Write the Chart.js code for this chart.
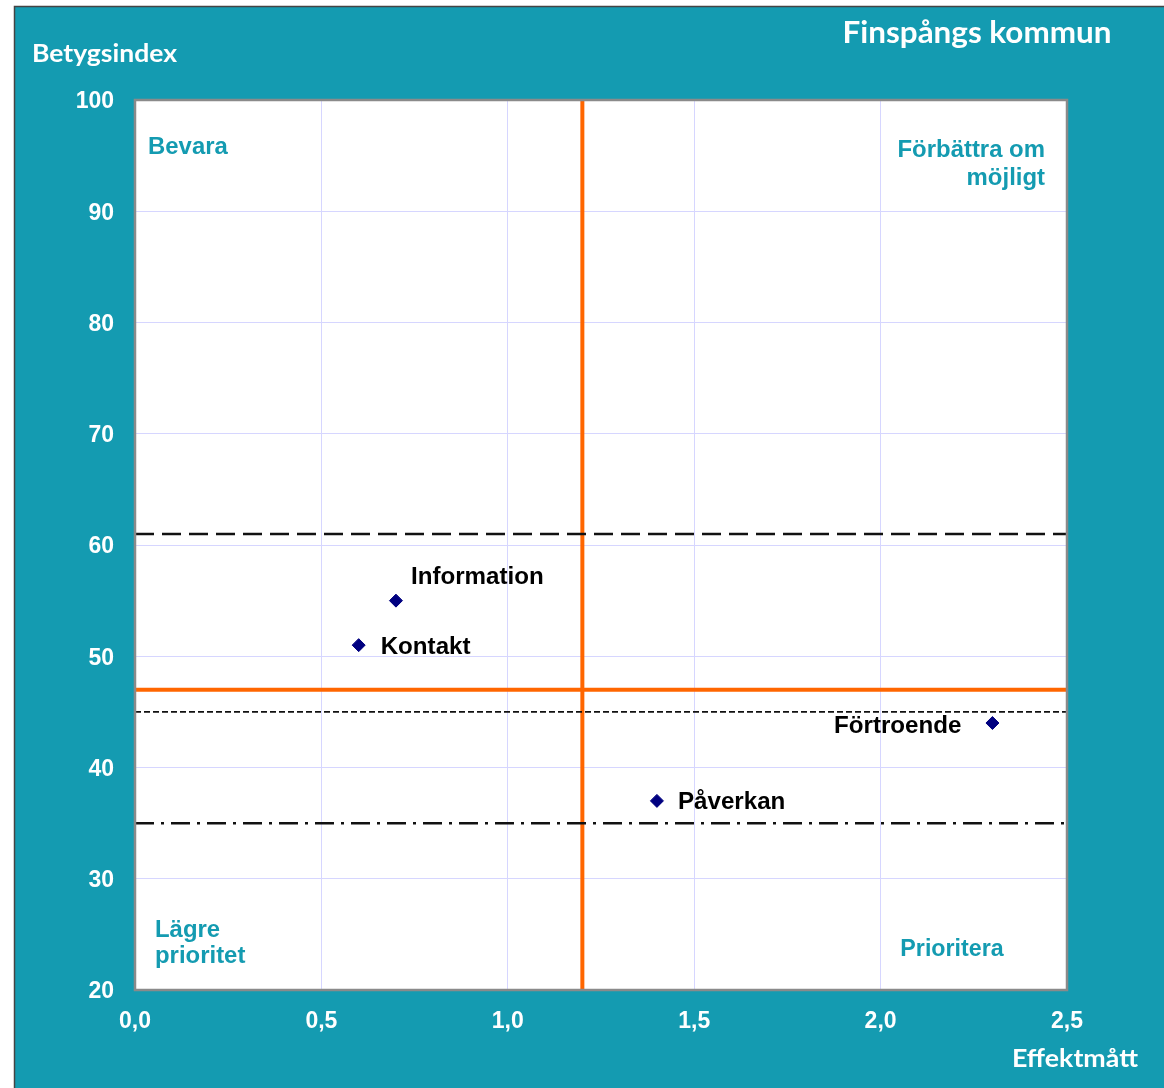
<!DOCTYPE html>
<html>
<head>
<meta charset="utf-8">
<script src="https://cdn.jsdelivr.net/npm/chart.js@4.4.1/dist/chart.umd.min.js"></script>
<style>
  body { margin: 0; background: #fff; }
  canvas { display: block; }
</style>
</head>
<body>
<canvas id="myChart" width="1164" height="1088"></canvas>
<script>
// data
const pointLabels = ["Information", "Kontakt", "Påverkan", "Förtroende"];
const effekt = [0.7, 0.6, 1.4, 2.3];
const betyg = [55, 51, 37, 44];

const xRange = [0, 2.5];
const yRange = [20, 100];
const priorityX = 1.2; // orange vertical
const priorityY = 47; // orange horizontal
const upperRef = 61; // long dash
const middleRef = 45; // short dash
const lowerRef = 35; // dash-dot

const TEAL = "#149bb1";
const ORANGE = "#ff6600";

function hLine(y) {
  return [{ x: xRange[0], y: y }, { x: xRange[1], y: y }];
}

// offsets for the point labels (relative to the marker)
const labelPos = {
  Information: { dx: 15, dy: -17, align: "left" },
  Kontakt: { dx: 22, dy: 9, align: "left" },
  Påverkan: { dx: 21, dy: 8, align: "left" },
  Förtroende: { dx: -31, dy: 10, align: "right" },
};

// text a little wider than the font gives, like the original
function wideText(ctx, text, x, y, sx) {
  ctx.save();
  ctx.translate(x, y);
  ctx.scale(sx, 1);
  ctx.fillText(text, 0, 0);
  ctx.restore();
}

const framePlugin = {
  id: "frame",
  beforeDraw(chart) {
    const ctx = chart.ctx;
    const a = chart.chartArea;
    ctx.save();
    ctx.fillStyle = "#fff";
    ctx.fillRect(0, 0, chart.width, chart.height);
    ctx.fillStyle = TEAL;
    ctx.fillRect(14, 6, chart.width - 14, chart.height - 6);
    ctx.strokeStyle = "#444";
    ctx.lineWidth = 1.5;
    ctx.beginPath();
    ctx.moveTo(14.5, chart.height);
    ctx.lineTo(14.5, 6.5);
    ctx.lineTo(chart.width, 6.5);
    ctx.stroke();
    ctx.fillStyle = "#fff";
    ctx.fillRect(a.left, a.top, a.right - a.left, a.bottom - a.top);
    ctx.restore();
  },
  afterDraw(chart) {
    const ctx = chart.ctx;
    const a = chart.chartArea;
    const xs = chart.scales.x;
    const ys = chart.scales.y;
    ctx.save();
    // plot border
    ctx.strokeStyle = "#8a8a8a";
    ctx.lineWidth = 2.5;
    ctx.strokeRect(a.left, a.top, a.right - a.left, a.bottom - a.top);

    // titles
    ctx.fillStyle = "#fff";
    ctx.textBaseline = "alphabetic";
    ctx.font = "bold 30.5px Lato";
    ctx.textAlign = "center";
    wideText(ctx, "Finspångs kommun", 977, 43, 1.03);
    ctx.font = "bold 25.5px Lato";
    ctx.textAlign = "left";
    wideText(ctx, "Betygsindex", 32, 62, 1.04);
    ctx.textAlign = "right";
    wideText(ctx, "Effektmått", 1138, 1067, 1.05);

    // quadrant names
    ctx.fillStyle = TEAL;
    ctx.font = "bold 23px 'Liberation Sans', Arial";
    ctx.textAlign = "left";
    wideText(ctx, "Bevara", 148, 154, 1.04);
    wideText(ctx, "Lägre", 155, 937, 1.04);
    wideText(ctx, "prioritet", 155, 963, 1.04);
    ctx.textAlign = "right";
    wideText(ctx, "Förbättra om", 1045, 157, 1.04);
    wideText(ctx, "möjligt", 1045, 185, 1.04);
    ctx.textAlign = "center";
    wideText(ctx, "Prioritera", 952, 956, 1.01);

    // point labels
    ctx.fillStyle = "#000";
    pointLabels.forEach((name, i) => {
      const p = labelPos[name];
      const px = xs.getPixelForValue(effekt[i]);
      const py = ys.getPixelForValue(betyg[i]);
      ctx.textAlign = p.align;
      wideText(ctx, name, px + p.dx, py + p.dy, 1.05);
    });
    ctx.restore();
  },
};

const ctx = document.getElementById("myChart").getContext("2d");
new Chart(ctx, {
  type: "scatter",
  data: {
    datasets: [
      {
        label: "prio x",
        data: [{ x: priorityX, y: yRange[0] }, { x: priorityX, y: yRange[1] }],
        showLine: true,
        borderColor: ORANGE,
        borderWidth: 4,
        pointRadius: 0,
        order: 5,
      },
      {
        label: "prio y",
        data: hLine(priorityY),
        showLine: true,
        borderColor: ORANGE,
        borderWidth: 4,
        pointRadius: 0,
        order: 5,
      },
      {
        label: "upper",
        data: hLine(upperRef),
        showLine: true,
        borderColor: "#111",
        borderWidth: 2.5,
        borderDash: [19, 8],
        pointRadius: 0,
        order: 4,
      },
      {
        label: "middle",
        data: hLine(middleRef),
        showLine: true,
        borderColor: "#111",
        borderWidth: 1.8,
        borderDash: [6, 3],
        pointRadius: 0,
        order: 4,
      },
      {
        label: "lower",
        data: hLine(lowerRef),
        showLine: true,
        borderColor: "#111",
        borderWidth: 2.5,
        borderDash: [19, 7, 3, 7],
        pointRadius: 0,
        order: 4,
      },
      {
        label: "Betygsindex",
        data: effekt.map((v, i) => ({ x: v, y: betyg[i] })),
        backgroundColor: "#000080",
        borderColor: "#000080",
        borderWidth: 1,
        pointStyle: "rectRot",
        pointRadius: 6.5,
        order: 1,
      },
    ],
  },
  options: {
    responsive: false,
    animation: false,
    layout: { padding: { top: 100, right: 97, left: 0, bottom: 0 } },
    plugins: {
      legend: { display: false },
      tooltip: { enabled: false },
    },
    scales: {
      x: {
        type: "linear",
        min: xRange[0],
        max: xRange[1],
        afterFit: (s) => { s.height = 98; },
        grid: { color: "#d6d6ff", lineWidth: 1, drawTicks: false },
        border: { display: false },
        ticks: {
          stepSize: 0.5,
          padding: 18,
          color: "#fff",
          font: { family: "'Liberation Sans', Arial", size: 23, weight: "bold" },
          callback: (v) => v.toFixed(1).replace(".", ","),
        },
      },
      y: {
        type: "linear",
        min: yRange[0],
        max: yRange[1],
        afterFit: (s) => { s.width = 135; },
        grid: { color: "#d6d6ff", lineWidth: 1, drawTicks: false },
        border: { display: false },
        ticks: {
          stepSize: 10,
          padding: 21,
          labelOffset: 2,
          color: "#fff",
          font: { family: "'Liberation Sans', Arial", size: 23, weight: "bold" },
        },
      },
    },
  },
  plugins: [framePlugin],
});
</script>
</body>
</html>
